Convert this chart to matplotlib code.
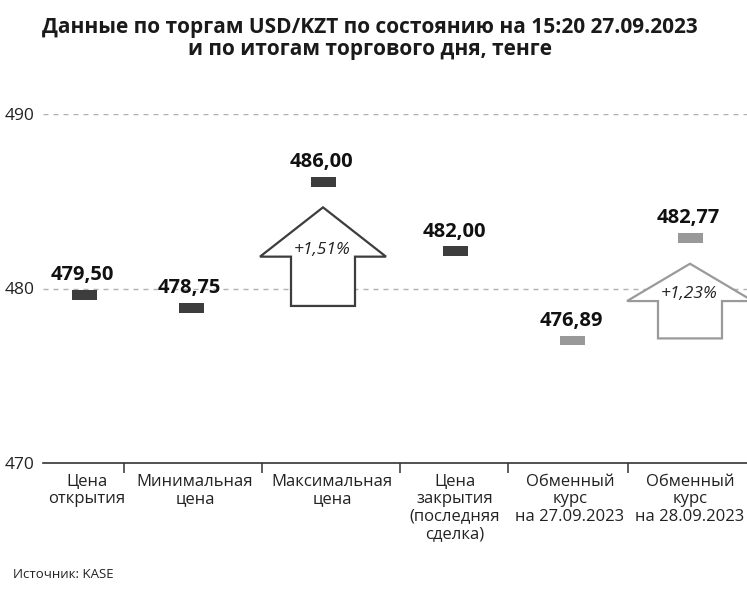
import matplotlib
matplotlib.use("Agg")
import matplotlib.pyplot as plt
from matplotlib.patches import Rectangle, Polygon

plt.rcParams['font.family'] = ['Open Sans', 'DejaVu Sans']

# ---------------- data ----------------
categories = ["Цена\nоткрытия", "Минимальная\nцена", "Максимальная\nцена",
              "Цена\nзакрытия\n(последняя\nсделка)",
              "Обменный\nкурс\nна 27.09.2023", "Обменный\nкурс\nна 28.09.2023"]
values = [479.50, 478.75, 486.00, 482.00, 476.89, 482.77]
bar_kinds = ["trade", "trade", "trade", "trade", "exchange", "exchange"]
y_ticks = [470, 480, 490]
arrow_pairs = [(1, 2), (4, 5)]  # (from index, to index)
title = "Данные по торгам USD/KZT по состоянию на 15:20 27.09.2023\nи по итогам торгового дня, тенге"
source = "Источник: KASE"

# ---------------- layout / style ----------------
W, H = 747, 593
edges = [42.7, 124, 262, 400, 508, 628, 747]
bar_x = [84, 191, 323, 455.5, 572.5, 690]
label_x = [87, 195, 332, 455, 570, 690]
kind_color = {"trade": "#3d3d3d", "exchange": "#999999"}
arrow_color = {"trade": "#3d3d3d", "exchange": "#9a9a9a"}

fig = plt.figure(figsize=(W / 100, H / 100), dpi=100)
ax = fig.add_axes([42.7 / W, 1 - 463 / H, 1 - 42.7 / W, (463 - 114) / H])
ax.set_xlim(edges[0], edges[-1])
ax.set_ylim(y_ticks[0], y_ticks[-1])

for s in ["top", "right", "left"]:
    ax.spines[s].set_visible(False)
ax.spines["bottom"].set_color("#333333")
ax.spines["bottom"].set_linewidth(1.2)

ax.set_yticks(y_ticks)
ax.set_yticklabels([str(t) for t in y_ticks], fontsize=12.5, color="#222222")
ax.tick_params(axis="y", length=0, pad=6)
ax.set_xticks(edges[1:-1])
ax.set_xticklabels([])
ax.tick_params(axis="x", length=7.5, width=1.1, color="#333333", direction="out")

for t in y_ticks[1:]:
    ax.axhline(t, color="#b0b0b0", lw=1.0, dashes=(3.6, 3.6), zorder=1)

# arrows
for i_from, i_to in arrow_pairs:
    lo, hi = values[i_from], values[i_to]
    cx = bar_x[i_to]
    bottom = lo + 0.25
    tip = hi - 1.35
    wing = (bottom + tip) / 2
    hw, hs = 63, 32
    pts = [(cx - hs, bottom), (cx + hs, bottom), (cx + hs, wing), (cx + hw, wing),
           (cx, tip), (cx - hw, wing), (cx - hs, wing)]
    ax.add_patch(Polygon(pts, closed=True, facecolor="white",
                         edgecolor=arrow_color[bar_kinds[i_to]], lw=1.6, zorder=3,
                         joinstyle="miter"))
    pct = (hi - lo) / lo * 100
    ax.text(cx - 1, wing + 0.15, ("+%.2f%%" % pct).replace(".", ","), ha="center",
            va="baseline", fontsize=12.5, style="italic", color="#222222", zorder=4)

# bars and value labels
bar_h = 0.57
for x, v, k in zip(bar_x, values, bar_kinds):
    yc = v + 0.13
    ax.add_patch(Rectangle((x - 12.5, yc - bar_h / 2), 25, bar_h,
                           facecolor=kind_color[k], edgecolor="none", zorder=5))
    ax.annotate(("%.2f" % v).replace(".", ","), xy=(x - 1.5, yc + bar_h / 2),
                xytext=(0, 7), textcoords="offset points", ha="center",
                va="baseline", fontsize=14.5, fontweight="bold", color="#111111",
                zorder=6)

# category labels
for x, c in zip(label_x, categories):
    ax.annotate(c, xy=(x, y_ticks[0]), xytext=(0, -8), textcoords="offset points",
                ha="center", va="top", fontsize=12, color="#222222",
                linespacing=1.1, annotation_clip=False)

fig.text(370 / W, 1 - 17 / H, title, ha="center", va="top", fontsize=15,
         fontweight="bold", color="#1a1a1a", linespacing=1.05)
fig.text(13 / W, 1 - 578 / H, source, ha="left", va="baseline", fontsize=9.5,
         color="#222222")

fig.savefig("out.png", dpi=100)
